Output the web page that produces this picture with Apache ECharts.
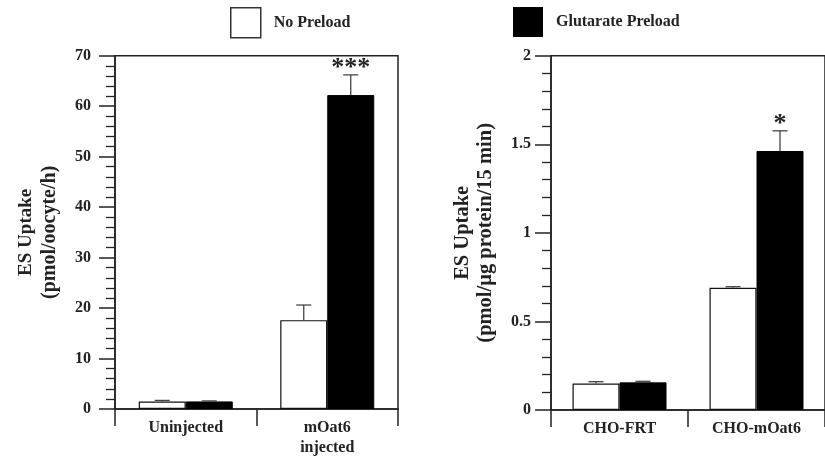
<!DOCTYPE html>
<html>
<head>
<meta charset="utf-8">
<script src="https://cdn.jsdelivr.net/npm/echarts@6/dist/echarts.min.js"></script>
<style>
html,body{margin:0;padding:0;background:#fff;}
#chart{width:825px;height:458px;}
</style>
</head>
<body>
<div id="chart"></div>
<script>
// ---- data ----
const seriesNames = ['No Preload', 'Glutarate Preload'];

const leftCategories = ['Uninjected', 'mOat6\ninjected'];
const leftNoPreload = [1.5, 17.6];
const leftNoPreloadErr = [0.2, 3.0];
const leftGlutarate = [1.5, 62.2];
const leftGlutarateErr = [0.1, 4.0];
const leftStars = ['', '***'];
const leftYTicks = { min: 0, max: 70, interval: 10 };
const leftYName = ['ES Uptake', '(pmol/oocyte/h)'];

const rightCategories = ['CHO-FRT', 'CHO-mOat6'];
const rightNoPreload = [0.15, 0.69];
const rightNoPreloadErr = [0.01, 0.006];
const rightGlutarate = [0.156, 1.462];
const rightGlutarateErr = [0.006, 0.114];
const rightStars = ['', '*'];
const rightYTicks = { min: 0, max: 2, interval: 0.5 };
const rightYName = ['ES Uptake', '(pmol/μg protein/15 min)'];

// ---- styling ----
const FONT = '"Liberation Serif", "Times New Roman", serif';
const LINE = '#222';
const BAR_W = 47;

function errData(vals, errs, sign) {
  return vals.map((v, i) => [i, v, errs[i], sign]);
}

function errSeries(xi, vals, errs, sign, stars) {
  return {
    type: 'custom',
    xAxisIndex: xi, yAxisIndex: xi,
    silent: true,
    z: 5,
    data: errData(vals, errs, sign),
    renderItem: function (params, api) {
      const cat = api.value(0), v = api.value(1), e = api.value(2), s = api.value(3);
      const star = stars ? stars[cat] : '';
      const top = api.coord([cat, v + e]);
      const base = api.coord([cat, v]);
      const x = top[0] + s * BAR_W / 2;
      const children = [
        { type: 'line', shape: { x1: x, y1: base[1], x2: x, y2: top[1] },
          style: { stroke: '#444', lineWidth: 1.3 } },
        { type: 'line', shape: { x1: x - 7.5, y1: top[1], x2: x + 7.5, y2: top[1] },
          style: { stroke: '#444', lineWidth: 1.3 } }
      ];
      if (star) {
        children.push({ type: 'text', x: x, y: top[1] - 7,
          style: { text: star, fontFamily: FONT, fontWeight: 'bold', fontSize: 26,
                   fill: '#222', align: 'center', verticalAlign: 'middle' } });
      }
      return { type: 'group', children: children };
    }
  };
}

function xAxisCfg(gi, cats) {
  return {
    type: 'category', gridIndex: gi, data: cats,
    axisLine: { show: true, lineStyle: { color: LINE, width: 1.5 } },
    axisTick: { show: true, length: 17, interval: 0, lineStyle: { color: LINE, width: 1.5 } },
    axisLabel: { margin: 9, color: '#222', fontFamily: FONT, fontWeight: 'bold', fontSize: 16, lineHeight: 20, interval: 0 },
    splitLine: { show: false }
  };
}

function yAxisCfg(gi, t, nameLines, labelMargin, sizeA, sizeB) {
  return {
    type: 'value', gridIndex: gi, min: t.min, max: t.max, interval: t.interval,
    name: '{a|' + nameLines[0] + '}\n{b|' + nameLines[1] + '}',
    nameLocation: 'middle', nameRotate: 90, nameGap: 54,
    nameTextStyle: {
      color: '#222',
      rich: {
        a: { fontFamily: FONT, fontWeight: 'bold', fontSize: sizeA, lineHeight: 23, color: '#222' },
        b: { fontFamily: FONT, fontWeight: 'bold', fontSize: sizeB, lineHeight: 23, color: '#222' }
      }
    },
    axisLine: { show: true, lineStyle: { color: LINE, width: 1.5 } },
    axisTick: { show: true, length: 16, lineStyle: { color: LINE, width: 1.5 } },
    minorTick: { show: true, splitNumber: 5, length: 9, lineStyle: { color: LINE, width: 1.3 } },
    axisLabel: { margin: labelMargin, color: '#222', fontFamily: FONT, fontWeight: 'bold', fontSize: 16 },
    splitLine: { show: false }, minorSplitLine: { show: false }
  };
}

function barSeries(xi, name, vals, filled) {
  return {
    type: 'bar', name: name, xAxisIndex: xi, yAxisIndex: xi, data: vals,
    barWidth: BAR_W, barGap: '0%',
    itemStyle: filled ? { color: '#000', borderColor: '#000', borderWidth: 1 }
                      : { color: '#fff', borderColor: '#111', borderWidth: 1.2 },
    z: 3
  };
}

const chart = echarts.init(document.getElementById('chart'), null, { renderer: 'canvas' });
chart.setOption({
  animation: false,
  backgroundColor: '#fff',
  legend: [
    { data: [{ name: seriesNames[0], itemStyle: { color: '#fff', borderColor: '#333', borderWidth: 1.5 } }],
      left: 230, top: 7, padding: 0, itemWidth: 30, itemHeight: 30, icon: 'rect', selectedMode: false,
      textStyle: { fontFamily: FONT, fontWeight: 'bold', fontSize: 16, color: '#222', padding: [0, 0, 0, 8] } },
    { data: [{ name: seriesNames[1], itemStyle: { color: '#000', borderColor: '#000', borderWidth: 0 } }],
      left: 513, top: 7, padding: 0, itemWidth: 30, itemHeight: 30, icon: 'rect', selectedMode: false,
      textStyle: { fontFamily: FONT, fontWeight: 'bold', fontSize: 16, color: '#222', padding: [0, 0, 0, 8] } }
  ],
  grid: [
    { left: 115, top: 55.7, width: 283, height: 354.3, show: true, borderColor: LINE, borderWidth: 1.5, backgroundColor: 'transparent' },
    { left: 551, top: 55.7, width: 284, height: 354.3, show: true, borderColor: LINE, borderWidth: 1.5, backgroundColor: 'transparent' }
  ],
  xAxis: [xAxisCfg(0, leftCategories), xAxisCfg(1, rightCategories)],
  yAxis: [
    yAxisCfg(0, leftYTicks, leftYName, 24, 19, 20),
    yAxisCfg(1, rightYTicks, rightYName, 20, 20.5, 20.5)
  ],
  series: [
    barSeries(0, seriesNames[0], leftNoPreload, false),
    barSeries(0, seriesNames[1], leftGlutarate, true),
    barSeries(1, seriesNames[0], rightNoPreload, false),
    barSeries(1, seriesNames[1], rightGlutarate, true),
    errSeries(0, leftNoPreload, leftNoPreloadErr, -1, null),
    errSeries(0, leftGlutarate, leftGlutarateErr, 1, leftStars),
    errSeries(1, rightNoPreload, rightNoPreloadErr, -1, null),
    errSeries(1, rightGlutarate, rightGlutarateErr, 1, rightStars)
  ]
});
</script>
</body>
</html>
